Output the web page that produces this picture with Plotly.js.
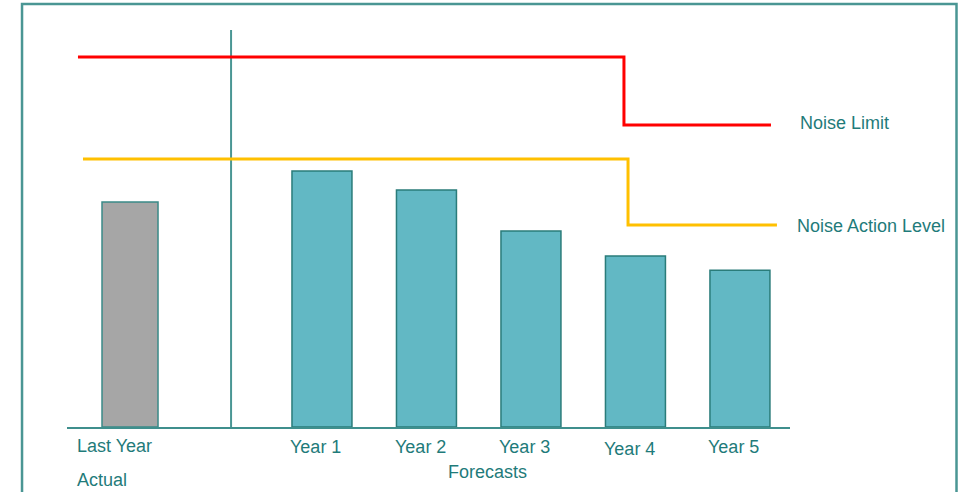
<!DOCTYPE html>
<html>
<head>
<meta charset="utf-8">
<script src="https://cdn.plot.ly/plotly-3.0.1.min.js"></script>
<style>html,body{margin:0;padding:0;background:#fff;}#chart{width:964px;height:492px;}</style>
</head>
<body>
<div id="chart"></div>
<script>
// ---- data ----
var actualCategory = ["Last Year"];
var actualValues = [56.7];
var forecastCategories = ["Year 1", "Year 2", "Year 3", "Year 4", "Year 5"];
var forecastValues = [64.5, 59.7, 49.4, 43.1, 39.5];
var noiseLimitLevels = [93.2, 93.2, 76.1, 76.1];
var noiseLimitX = [-0.498, 4.727, 4.727, 6.134];
var actionLevelLevels = [67.5, 67.5, 50.9, 50.9];
var actionLevelX = [-0.45, 4.766, 4.766, 6.191];
var groupLabels = ["Actual", "Forecasts"];
var lineLabels = ["Noise Limit", "Noise Action Level"];

// ---- layout helpers ----
var gap = 1.837;            // distance from actual bar to first forecast bar
var actualX = actualCategory.map(function (_, i) { return i; });
var forecastX = forecastCategories.map(function (_, i) { return gap + i; });
var teal = "#1f7b7a";
var font = {family: "Liberation Sans, Arial, sans-serif", size: 18, color: teal};

var traces = [
  {type: "bar", x: actualX, y: actualValues, width: 0.536,
   marker: {color: "#a6a6a6", line: {color: "#3a8a88", width: 1.5}}, hoverinfo: "skip"},
  {type: "bar", x: forecastX, y: forecastValues, width: 0.574,
   marker: {color: "#62b8c4", line: {color: "#2a7c7a", width: 1.5}}, hoverinfo: "skip"},
  {type: "scatter", mode: "lines", x: noiseLimitX, y: noiseLimitLevels,
   line: {color: "#ff0000", width: 3}, hoverinfo: "skip"},
  {type: "scatter", mode: "lines", x: actionLevelX, y: actionLevelLevels,
   line: {color: "#ffc000", width: 3}, hoverinfo: "skip"}
];

var annotations = [];
annotations.push({x: actualX[0], y: 0, xref: "x", yref: "y", text: actualCategory[0],
  showarrow: false, xanchor: "left", yanchor: "middle", xshift: -55, yshift: -19, font: font});
annotations.push({x: actualX[0], y: 0, xref: "x", yref: "y", text: groupLabels[0],
  showarrow: false, xanchor: "left", yanchor: "middle", xshift: -55, yshift: -53, font: font});
forecastCategories.forEach(function (c, i) {
  annotations.push({x: forecastX[i], y: 0, xref: "x", yref: "y", text: c,
    showarrow: false, xanchor: "center", yanchor: "middle", xshift: -6,
    yshift: (i === 3 ? -22 : -20), font: font});
});
annotations.push({x: 0.582, y: 0, xref: "paper", yref: "y", text: groupLabels[1],
  showarrow: false, xanchor: "center", yanchor: "middle", yshift: -45, font: font});
annotations.push({x: noiseLimitX[noiseLimitX.length - 1], y: noiseLimitLevels[noiseLimitLevels.length - 1],
  xref: "x", yref: "y", text: lineLabels[0], showarrow: false, xanchor: "left", yanchor: "middle",
  xshift: 27, yshift: 2, font: font});
annotations.push({x: actionLevelX[actionLevelX.length - 1], y: actionLevelLevels[actionLevelLevels.length - 1],
  xref: "x", yref: "y", text: lineLabels[1], showarrow: false, xanchor: "left", yanchor: "middle",
  xshift: 18, yshift: -1, font: font});

var layout = {
  width: 964, height: 492,
  margin: {l: 67, r: 174, t: 30, b: 65},
  paper_bgcolor: "#ffffff", plot_bgcolor: "#ffffff",
  showlegend: false,
  barmode: "overlay",
  xaxis: {range: [-0.603, 6.316], showgrid: false, zeroline: false, showticklabels: false,
          ticks: "", showline: true, linecolor: "#3f8f8d", linewidth: 2, fixedrange: true},
  yaxis: {range: [0, 100], showgrid: false, zeroline: false, showticklabels: false,
          ticks: "", showline: false, fixedrange: true},
  shapes: [
    {type: "rect", xref: "paper", yref: "paper", x0: -0.0622, x1: 1.2303, y0: -0.2, y1: 1.0655,
     line: {color: "#4a9694", width: 2.5}, fillcolor: "rgba(0,0,0,0)", layer: "below"},
    {type: "line", xref: "x", yref: "paper", x0: 0.967, x1: 0.967, y0: 0, y1: 1,
     line: {color: "#4a9694", width: 2}, layer: "below"}
  ],
  annotations: annotations
};

Plotly.newPlot("chart", traces, layout, {displayModeBar: false, staticPlot: true});
</script>
</body>
</html>
